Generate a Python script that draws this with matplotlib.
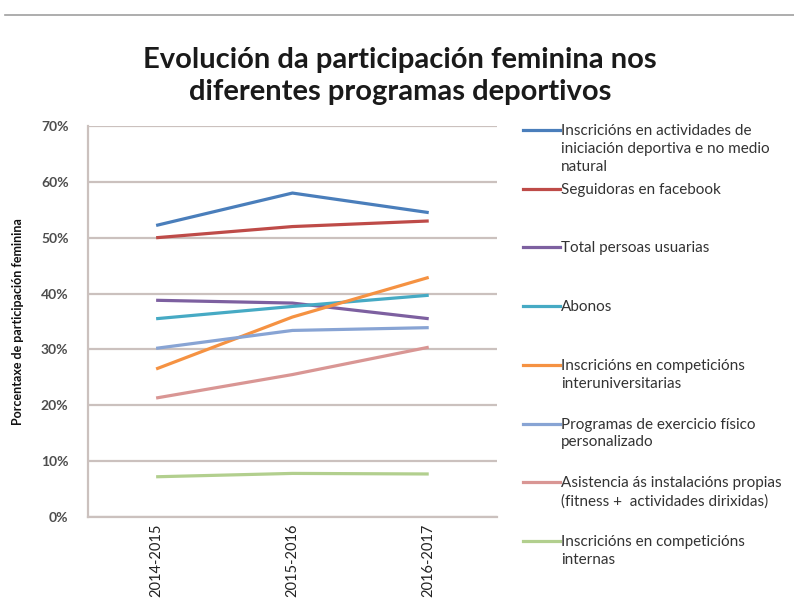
import numpy as np
import matplotlib
matplotlib.use("Agg")
import matplotlib.pyplot as plt
from matplotlib.lines import Line2D

plt.rcParams['font.family'] = ['Lato', 'DejaVu Sans']

years = ['2014-2015', '2015-2016', '2016-2017']

iniciacion = [52.2, 58.0, 54.5]
facebook = [50.0, 52.0, 53.0]
total_usuarias = [38.8, 38.3, 35.5]
abonos = [35.5, 37.7, 39.7]
interuniversitarias = [26.5, 35.8, 42.9]
exercicio_fisico = [30.2, 33.4, 33.9]
asistencia = [21.3, 25.5, 30.4]
internas = [7.2, 7.8, 7.7]

labels = [
    'Inscricións en actividades de\niniciación deportiva e no medio\nnatural',
    'Seguidoras en facebook',
    'Total persoas usuarias',
    'Abonos',
    'Inscricións en competicións\ninteruniversitarias',
    'Programas de exercicio físico\npersonalizado',
    'Asistencia ás instalacións propias\n(fitness +  actividades dirixidas)',
    'Inscricións en competicións\ninternas',
]
series = [iniciacion, facebook, total_usuarias, abonos,
          interuniversitarias, exercicio_fisico, asistencia, internas]
colors = ['#4a7ebb', '#be4b48', '#7d60a0', '#46aac4',
          '#f59242', '#88a4d4', '#d99694', '#b2cf8e']

fig = plt.figure(figsize=(7.94, 6.01), dpi=100)
ax = fig.add_axes([0.1108, 0.1398, 0.515, 0.6505])

x = np.arange(len(years))
for vals, c in zip(series, colors):
    ax.plot(x, vals, color=c, lw=2.3, solid_capstyle='butt')

ax.set_xlim(-0.5, len(years) - 0.5)
ax.set_ylim(0, 70)
ax.set_yticks(np.arange(0, 71, 10))
ax.set_yticklabels([f'{v}%' for v in range(0, 71, 10)], fontsize=10,
                   color='#4d4d4d', fontweight='bold')
ax.set_xticks(x)
ax.set_xticklabels(years, rotation=90, fontsize=10.5, color='#222222', va='top')
ax.tick_params(axis='y', length=0, pad=14)
ax.tick_params(axis='x', length=0, pad=5)
ax.grid(axis='y', color='#cbc1be', lw=1.6)
ax.set_axisbelow(True)
for s in ['top', 'right']:
    ax.spines[s].set_visible(False)
for s in ['left', 'bottom']:
    ax.spines[s].set_color('#cbc1be')
    ax.spines[s].set_linewidth(1.6)
ax.set_ylabel('Porcentaxe de participación feminina', fontsize=9,
              fontweight='bold', color='#111111', labelpad=12)

fig.text(0.504, 1 - 76 / 601, 'Evolución da participación feminina nos\ndiferentes programas deportivos',
         ha='center', va='center', fontsize=21, fontweight='bold',
         color='#1a1a1a', linespacing=1.25)

# top border line
fig.add_artist(Line2D([5 / 794, 1], [1 - 15 / 601] * 2, color='#a0a0a0', lw=1.2))

# legend drawn by hand
y0 = 130
step = 58.7
for i, (lab, c) in enumerate(zip(labels, colors)):
    yy = 1 - (y0 + i * step) / 601
    fig.add_artist(Line2D([523 / 794, 560 / 794], [yy, yy], color=c, lw=2.3))
    fig.text(561 / 794, yy + 6 / 601, lab, ha='left', va='top', fontsize=11,
             color='#333333', linespacing=1.35)

fig.savefig('out.png', dpi=100)
